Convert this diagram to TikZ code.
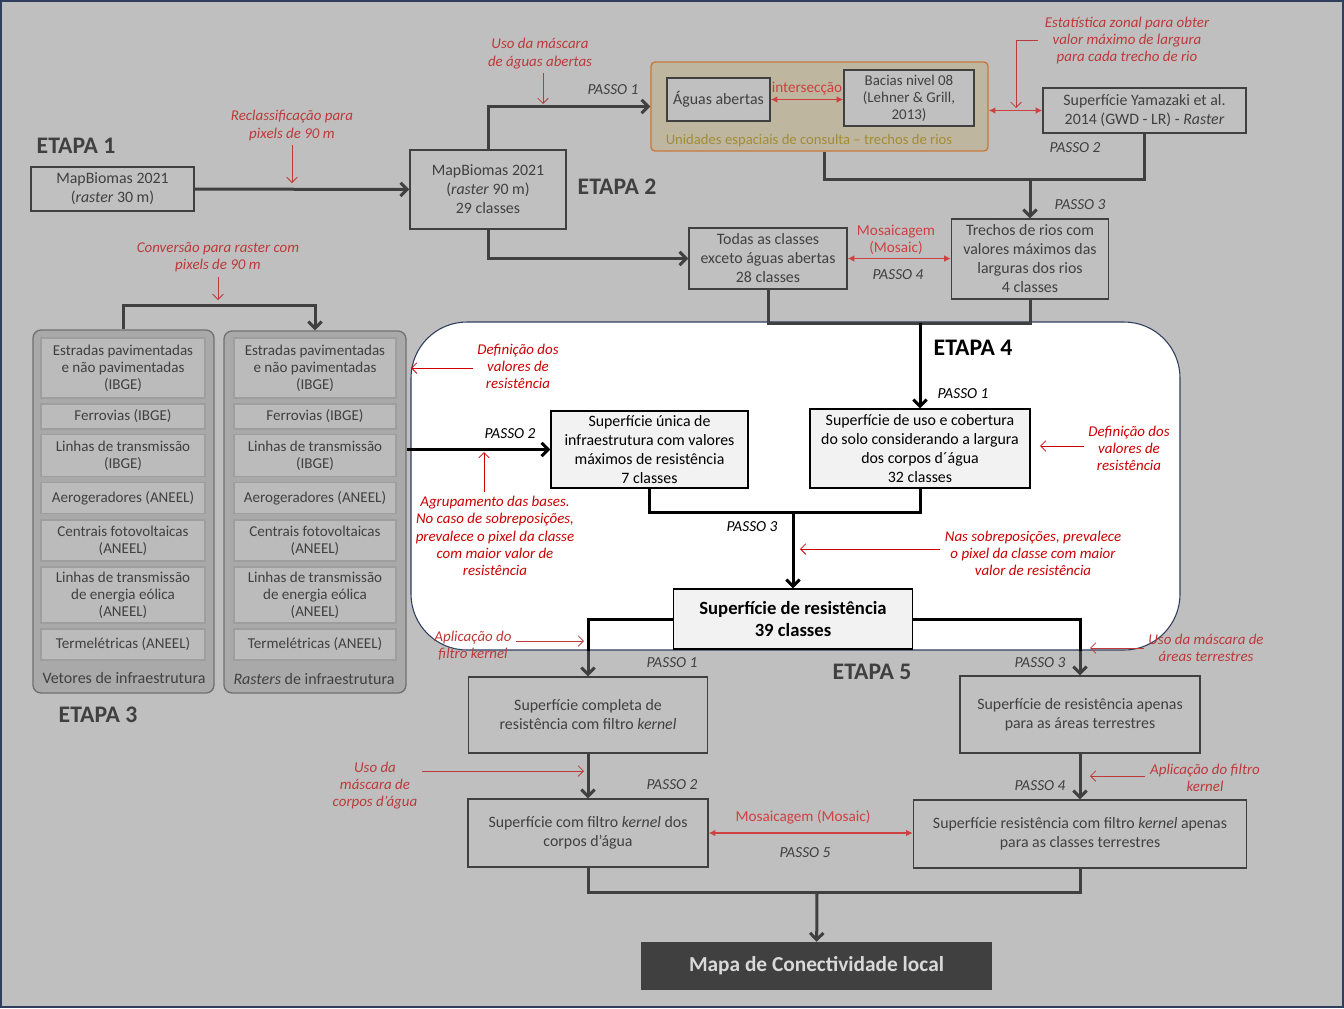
\documentclass[tikz,border=0pt]{standalone}
\usepackage{fontspec}
\setmainfont{Carlito}
\usetikzlibrary{arrows.meta}
\definecolor{bggray}{HTML}{BFBFBF}
\definecolor{dgray}{HTML}{404040}
\definecolor{boxgray}{HTML}{C0C0C0}
\definecolor{panelfill}{HTML}{A9A9A9}
\definecolor{panelline}{HTML}{707070}
\definecolor{itemfill}{HTML}{BBBBBB}
\definecolor{itemline}{HTML}{9E9E9E}
\definecolor{tanfill}{HTML}{BFB6A0}
\definecolor{tanline}{HTML}{C8783C}
\definecolor{tantext}{HTML}{A28C36}
\definecolor{navyline}{HTML}{2F3E5E}
\definecolor{wfill}{HTML}{F2F2F2}
\definecolor{lgray}{HTML}{D9D9D9}
\definecolor{rednote}{HTML}{BC3A3A}
\definecolor{redarr}{HTML}{CF4040}
\definecolor{redw}{HTML}{CC0000}

\begin{document}
\begin{tikzpicture}[x=0.75pt,y=-0.75pt,
    wh/.style 2 args={minimum width=#1*0.75pt,minimum height=#2*0.75pt},
    box/.style={rectangle,draw=dgray,fill=boxgray,text=dgray,align=center,
      inner sep=1pt,line width=1pt,font=\fontsize{11.9}{14.25}\selectfont},
    wbox/.style={box,draw=black,fill=wfill,text=black},
    item/.style={rectangle,draw=itemline,fill=itemfill,text=dgray,align=center,
      inner sep=1pt,line width=0.8pt,font=\fontsize{11.3}{12.75}\selectfont},
    panel/.style={rectangle,draw=panelline,fill=panelfill,rounded corners=6pt,line width=1pt},
    etapa/.style={font=\fontsize{17.8}{20}\selectfont\bfseries,text=dgray},
    passo/.style={font=\fontsize{11.5}{13}\selectfont\itshape,text=dgray},
    note/.style={font=\fontsize{11.2}{12.9}\selectfont\itshape,text=rednote,align=center},
    wnote/.style={note,text=redw},
    redlab/.style={font=\fontsize{11.4}{12.9}\selectfont,text=redarr,align=center},
    conn/.style={draw=dgray,line width=2.25pt},
    flow/.style={conn,-{Straight Barb[length=5pt,width=10pt]}},
    connk/.style={conn,draw=black},
    flowk/.style={flow,draw=black},
    hint/.style={draw=rednote,line width=0.6pt,-{Straight Barb[length=4pt,width=8pt]}},
    whint/.style={hint,draw=redw},
    dbl/.style={draw=redarr,line width=1pt,{Latex[length=5pt,width=5pt]}-{Latex[length=5pt,width=5pt]}}]
  \useasboundingbox (0,0) rectangle (1344,1008);
  \fill[bggray] (0,0) rectangle (1344,1008);
  \draw[navyline,line width=1.5pt] (1,1) rectangle (1343,1007);

  % ETAPA 1 and 2
  \node[etapa] (e1) at (76,146) {ETAPA 1};
  \node[box,wh={163}{44}] (mb30) at (112.5,189) {MapBiomas 2021\\(\textit{raster} 30 m)};
  \node[box,wh={156}{79}] (mb90) at (488,189.5) {MapBiomas 2021\\(\textit{raster} 90 m)\\29 classes};
  \node[etapa] (e2) at (617,187) {ETAPA 2};
  \draw[flow] (mb30) -- (mb90);
  \node[note] (n1) at (292,125.5) {Reclassificação para\\pixels de 90 m};
  \coordinate (t1) at (292,183);
  \draw[hint] (n1.south) -- (t1);

  % Unidades espaciais
  \node[rectangle,draw=tanline,fill=tanfill,rounded corners=3pt,line width=1pt,wh={337}{89}] (tan) at (819.5,106.5) {};
  \node[font=\fontsize{11}{12}\selectfont,text=tantext] (tanlab) at (809,141) {Unidades espaciais de consulta – trechos de rios};
  \node[box,wh={103}{43}] (aguas) at (718.5,99.5) {Águas abertas};
  \node[box,wh={130}{56},font=\fontsize{11.2}{12.75}\selectfont] (bacias) at (909,98) {Bacias nivel 08\\(Lehner \& Grill,\\2013)};
  \draw[dbl] (aguas.east) -- (aguas.east -| bacias.west);
  \node[redlab] (inter) at (807,89) {intersecção};
  \draw[flow] (mb90) |- (tan);
  \node[passo] (p1a) at (613,90) {PASSO 1};
  \node[note] (n0) at (540,53.5) {Uso da máscara\\de águas abertas};
  \coordinate (t0) at (543,104);
  \draw[hint] (n0.south -| t0) -- (t0);

  \node[box,wh={203}{45}] (yama) at (1144.5,110.5) {Superfície Yamazaki et al.\\2014 (GWD - LR) - \textit{Raster}};
  \draw[dbl] (tan.east |- yama) -- (yama.west);
  \node[note] (n3) at (1127,40.5) {Estatística zonal para obter\\valor máximo de largura\\para cada trecho de rio};
  \coordinate (t3) at (1016,108);
  \draw[hint] ([xshift=-2pt]n3.west) -| (t3);
  \node[passo] (p2a) at (1075,148) {PASSO 2};

  \coordinate (j1) at (1030,179);
  \draw[conn] ([xshift=3.4pt]tan.south) |- (j1) -| (yama.south);
  \node[box,wh={157}{80}] (trechos) at (1030,259) {Trechos de rios com\\valores máximos das\\larguras dos rios\\4 classes};
  \draw[flow] (j1) -- (trechos);
  \node[passo] (p3a) at (1080,205) {PASSO 3};

  \node[box,wh={158}{61}] (todas) at (768,258.5) {Todas as classes\\exceto águas abertas\\28 classes};
  \draw[flow] (mb90) |- (todas);
  \draw[dbl] (todas.east) -- (todas.east -| trechos.west);
  \node[redlab] (mos1) at (896,239.5) {Mosaicagem\\(Mosaic)};
  \node[passo] (p4a) at (898,275) {PASSO 4};

  % ETAPA 3
  \node[note] (n2) at (218,257.5) {Conversão para raster com\\pixels de 90 m};
  \coordinate (t2) at (218,300);
  \draw[hint] (n2.south) -- (t2);
  \node[panel,wh={181}{363}] (p1) at (123.5,511.5) {};
  \node[panel,wh={182}{362}] (p2) at (315,512) {};
  \coordinate (j0) at (218,305);
  \draw[flow] (p1.north) |- (j0) -| (p2.north);
  \foreach \y/\h/\t [count=\i] in {368/60/{Estradas pavimentadas\\e não pavimentadas\\(IBGE)},
      416.5/25/{Ferrovias (IBGE)}, 455.5/42/{Linhas de transmissão\\(IBGE)},
      498/31/{Aerogeradores (ANEEL)}, 540.5/41/{Centrais fotovoltaicas\\(ANEEL)},
      595/56/{Linhas de transmissão\\de energia eólica\\(ANEEL)}, 644.5/31/{Termelétricas (ANEEL)}}{
    \node[item,wh={164}{\h}] (v\i) at (123,\y) {\t};
    \node[item,wh={162}{\h}] (r\i) at (315,\y) {\t};
  }
  \node[text=dgray,font=\fontsize{12}{13}\selectfont] (vlab) at (124,678) {Vetores de infraestrutura};
  \node[text=dgray,font=\fontsize{12}{13}\selectfont] (rlab) at (314,679) {\textit{Rasters} de infraestrutura};
  \node[etapa] (e3) at (98,715) {ETAPA 3};

  % ETAPA 4
  \node[rectangle,draw=navyline,fill=white,rounded corners=42pt,line width=0.8pt,wh={769}{328}] (etapa4) at (795.5,486) {};
  \coordinate (j2) at (920,323);
  \draw[conn] (todas.south) |- (j2) -| (trechos.south);
  \node[etapa,text=black] (e4) at (973,348) {ETAPA 4};
  \node[passo,text=black] (p1b) at (963,394) {PASSO 1};
  \node[wbox,wh={220}{79}] (uso) at (920,448.5) {Superfície de uso e cobertura\\do solo considerando a largura\\dos corpos d´água\\32 classes};
  \draw[flowk] (j2) -- (uso);
  \node[wnote] (n4) at (1129,448.5) {Definição dos\\valores de\\resistência};
  \coordinate (t4) at (1040,446);
  \draw[whint] (t4 -| n4.west) -- (t4);

  \node[wbox,wh={197}{77}] (unica) at (649.5,449.5) {Superfície única de\\infraestrutura com valores\\máximos de resistência\\7 classes};
  \draw[flowk] (p2.east |- unica) -- (unica);
  \node[passo,text=black] (p2b) at (510,434) {PASSO 2};
  \node[wnote] (n5) at (495,536) {Agrupamento das bases.\\No caso de sobreposições,\\prevalece o pixel da classe\\com maior valor de\\resistência};
  \coordinate (t5) at (484,452);
  \draw[whint] (n5.north -| t5) -- (t5);
  \node[wnote] (n6) at (518,366.5) {Definição dos\\valores de\\resistência};
  \coordinate (t6) at (411,368);
  \draw[whint] (t6 -| n6.west) -- (t6);

  \node[wbox,wh={239}{60},font=\fontsize{14}{17}\selectfont\bfseries] (resist) at (793,619) {Superfície de resistência\\39 classes};
  \coordinate (j3) at (793,512);
  \draw[connk] (unica.south) |- (j3) -| (uso.south);
  \draw[flowk] (j3) -- (resist);
  \node[passo,text=black] (p3b) at (752,527) {PASSO 3};
  \node[wnote] (n7) at (1033,553.5) {Nas sobreposições, prevalece\\o pixel da classe com maior\\valor de resistência};
  \coordinate (t7) at (800,549);
  \draw[whint] (t7 -| n7.west) -- (t7);

  % ETAPA 5
  \node[box,wh={239}{76}] (completa) at (588,715) {Superfície completa de\\resistência com filtro \textit{kernel}};
  \node[box,wh={240}{77}] (terrestres) at (1080,714.5) {Superfície de resistência apenas\\para as áreas terrestres};
  \draw[connk] (resist) -| (completa.north |- etapa4.south);
  \draw[connk] (resist) -| (terrestres.north |- etapa4.south);
  \draw[flow] (completa.north |- etapa4.south) -- (completa);
  \draw[flow] (terrestres.north |- etapa4.south) -- (terrestres);
  \node[etapa] (e5) at (872,672) {ETAPA 5};
  \node[passo] (p1c) at (672,663) {PASSO 1};
  \node[passo] (p3c) at (1040,663) {PASSO 3};
  \node[note] (n8) at (473,645.5) {Aplicação do\\filtro kernel};
  \coordinate (t8) at (584,641);
  \draw[hint] (t8 -| n8.east) -- (t8);
  \node[note] (n9) at (1206,647.5) {Uso da máscara de\\áreas terrestres};
  \coordinate (t9) at (1090,648);
  \draw[hint] (t9 -| n9.west) -- (t9);

  \node[box,wh={240}{68}] (kcorpos) at (588,833) {Superfície com filtro \textit{kernel} dos\\corpos d’água};
  \node[box,wh={333}{68}] (kterr) at (1080,834) {Superfície resistência com filtro \textit{kernel} apenas\\para as classes terrestres};
  \draw[flow] (completa) -- (kcorpos);
  \draw[flow] (terrestres) -- (kterr);
  \node[passo] (p2c) at (672,785) {PASSO 2};
  \node[passo] (p4c) at (1040,786) {PASSO 4};
  \node[note] (n10) at (375,785.5) {Uso da\\máscara de\\corpos d’água};
  \coordinate (t10) at (584,771);
  \draw[hint] (t10 -| n10.east) -- (t10);
  \node[note] (n11) at (1205,777.5) {Aplicação do filtro\\kernel};
  \coordinate (t11) at (1090,776);
  \draw[hint] (t11 -| n11.west) -- (t11);
  \draw[dbl] (kcorpos.east) -- (kcorpos.east -| kterr.west);
  \node[redlab] (mos2) at (803,817) {Mosaicagem (Mosaic)};
  \node[passo] (p5c) at (805,853) {PASSO 5};

  \node[rectangle,fill=dgray,text=lgray,wh={351}{48},font=\fontsize{16}{18}\selectfont\bfseries] (mapa) at (816.5,966) {Mapa de Conectividade local};
  \coordinate (j4) at (817,892);
  \draw[conn] (kcorpos.south) |- (j4) -| (kterr.south);
  \draw[flow] (j4) -- (mapa);
\end{tikzpicture}
\end{document}
